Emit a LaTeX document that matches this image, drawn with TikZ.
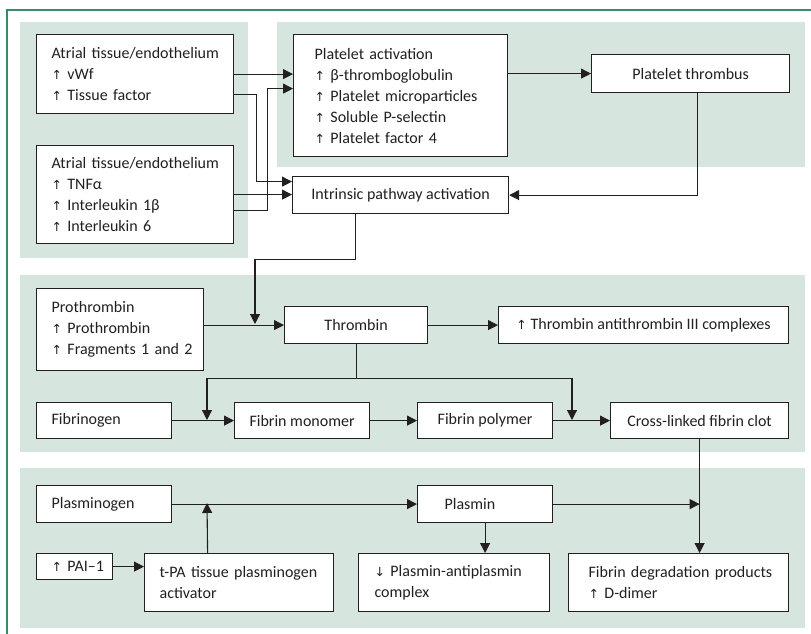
\documentclass[tikz,border=0pt]{standalone}
\usepackage{fontspec}
\setmainfont{Carlito}
\newfontfamily\arrfont{DejaVu Sans}
\newcommand{\upar}{{\arrfont\fontsize{12.5}{21}\selectfont ↑}}
\newcommand{\dnar}{{\arrfont\fontsize{12.5}{21}\selectfont ↓}}
\usetikzlibrary{arrows.meta}
\hyphenpenalty=10000
\exhyphenpenalty=10000
\definecolor{panelc}{RGB}{214,230,223}
\definecolor{framec}{RGB}{58,140,100}
\definecolor{inkc}{RGB}{35,31,32}
\tikzset{
  panel/.style={fill=panelc, draw=none},
  box/.style={draw=inkc, fill=white, line width=1.2pt, anchor=north west, inner ysep=0pt,
     font=\fontsize{16}{21}\selectfont, text=inkc},
  lbox/.style={box, align=left, inner xsep=0pt, execute at begin node={\leftskip=#1}},
  lbox/.default=15pt,
  cbox/.style={box, align=center, inner xsep=0pt},
  conn/.style={draw=inkc, line width=1.1pt},
  arr/.style={conn, -{Triangle[length=10pt,width=10pt]}},
}
\begin{document}
\begin{tikzpicture}[x=1pt,y=-1pt]
\useasboundingbox (0,0) rectangle (811,634);
% frame
\draw[framec, line width=1.5pt] (7,634) -- (7,10) -- (811,10);
% panels
\fill[panel] (20,22) rectangle (248,258);
\fill[panel] (277,22) rectangle (805,167);
\fill[panel] (20,275) rectangle (805,452);
\fill[panel] (20,468) rectangle (805,628);
% boxes
\node[lbox, minimum width=197pt, minimum height=79pt, text width=197pt] (A1) at (36,34)
  {Atrial tissue/endothelium\\ \upar\ vWf\\ \upar\ Tissue factor};
\node[lbox, minimum width=197pt, minimum height=98pt, text width=197pt] (A2) at (36,145)
  {Atrial tissue/endothelium\\ \upar\ TNFα\\ \upar\ Interleukin 1β\\ \upar\ Interleukin 6};
\node[lbox=21pt, minimum width=214pt, minimum height=122pt, text width=214pt] (PA) at (293,34)
  {Platelet activation\\ \upar\ β-thromboglobulin\\ \upar\ Platelet microparticles\\ \upar\ Soluble P-selectin\\ \upar\ Platelet factor 4};
\node[cbox, minimum width=198pt, minimum height=38pt] (PT) at (591,54) {Platelet thrombus};
\node[cbox, minimum width=216pt, minimum height=37pt] (IP) at (292,176) {Intrinsic pathway activation};
\node[lbox, minimum width=167pt, minimum height=82pt, text width=167pt] (PR) at (36,288)
  {Prothrombin\\ \upar\ Prothrombin\\ \upar\ Fragments 1 and 2};
\node[cbox, minimum width=143pt, minimum height=37pt] (TH) at (284,306) {Thrombin};
\node[cbox, minimum width=290pt, minimum height=37pt] (TAT) at (498,306) {\upar\ Thrombin antithrombin III complexes};
\node[lbox, minimum width=135pt, minimum height=36pt, text width=135pt] (FG) at (36,402) {Fibrinogen};
\node[cbox, minimum width=135pt, minimum height=36pt] (FM) at (234,402) {Fibrin monomer};
\node[cbox, minimum width=135pt, minimum height=36pt] (FP) at (417,402) {Fibrin polymer};
\node[cbox, minimum width=178pt, minimum height=36pt] (CL) at (610,402) {Cross-linked fibrin clot};
\node[lbox, minimum width=135pt, minimum height=37pt, text width=135pt] (PG) at (36,485) {Plasminogen};
\node[lbox=27pt, minimum width=135pt, minimum height=37pt, text width=135pt] (PL) at (417,485) {Plasmin};
\node[lbox, minimum width=76pt, minimum height=26pt, text width=76pt] (PAI) at (36,553) {\upar\ PAI–1};
\node[lbox, minimum width=189pt, minimum height=58pt, text width=189pt] (TPA) at (144,553)
  {t-PA tissue plasminogen\\ activator};
\node[lbox=16pt, minimum width=191pt, minimum height=58pt, text width=191pt] (PAP) at (358,553)
  {\dnar\ Plasmin-antiplasmin\\ complex};
\node[lbox=20pt, minimum width=220pt, minimum height=58pt, text width=220pt] (FDP) at (568,553)
  {Fibrin degradation products\\ \upar\ D-dimer};
% junction coordinates
\coordinate (jpt) at (255,324);
\coordinate (jfm) at (207,420);
\coordinate (jfp) at (572,420);
\coordinate (jtpa) at (207,503);
% connectors: top area
\draw[arr] (A1.east) -- (A1.east -| PA.west);
\draw[arr] ([yshift=-20.5pt]A1.east) -- ++(22,0) |- ([yshift=13.5pt]IP.west);
\draw[arr] (A2.east) -- (A2.east -| IP.west);
\draw[arr] ([yshift=-16pt]A2.east) -- ++(33,0) |- ([yshift=7pt]PA.west);
\draw[arr] (PT.west -| PA.east) -- (PT.west);
\draw[arr] ([xshift=7pt]PT.south) |- (IP.east);
\draw[arr] ([xshift=-45pt]IP.south) -- ++(0,45) -| (jpt);
% middle area
\draw[arr] (TH.west -| PR.east) -- (TH.west);
\draw[arr] (TH.east) -- (TAT.west);
\draw[conn] (TH.south) -- ++(0,34) coordinate (split);
\draw[arr] (split) -| (jfm);
\draw[arr] (split) -| (jfp);
\draw[arr] (FG.east) -- (FM.west);
\draw[arr] (FM.east) -- (FP.west);
\draw[arr] (FP.east) -- (CL.west);
% bottom area
\draw[arr] (CL.south) -- (CL.south |- FDP.north);
\draw[arr] (PG.east) -- (PL.west);
\draw[arr] ([xshift=-31.5pt]TPA.north) -- (jtpa);
\draw[arr] (PAI.east) -- (PAI.east -| TPA.west);
\draw[arr] (PL.east) -- (PL.east -| CL.south);
\draw[arr] (PL.south) -- (PL.south |- PAP.north);
\end{tikzpicture}
\end{document}
